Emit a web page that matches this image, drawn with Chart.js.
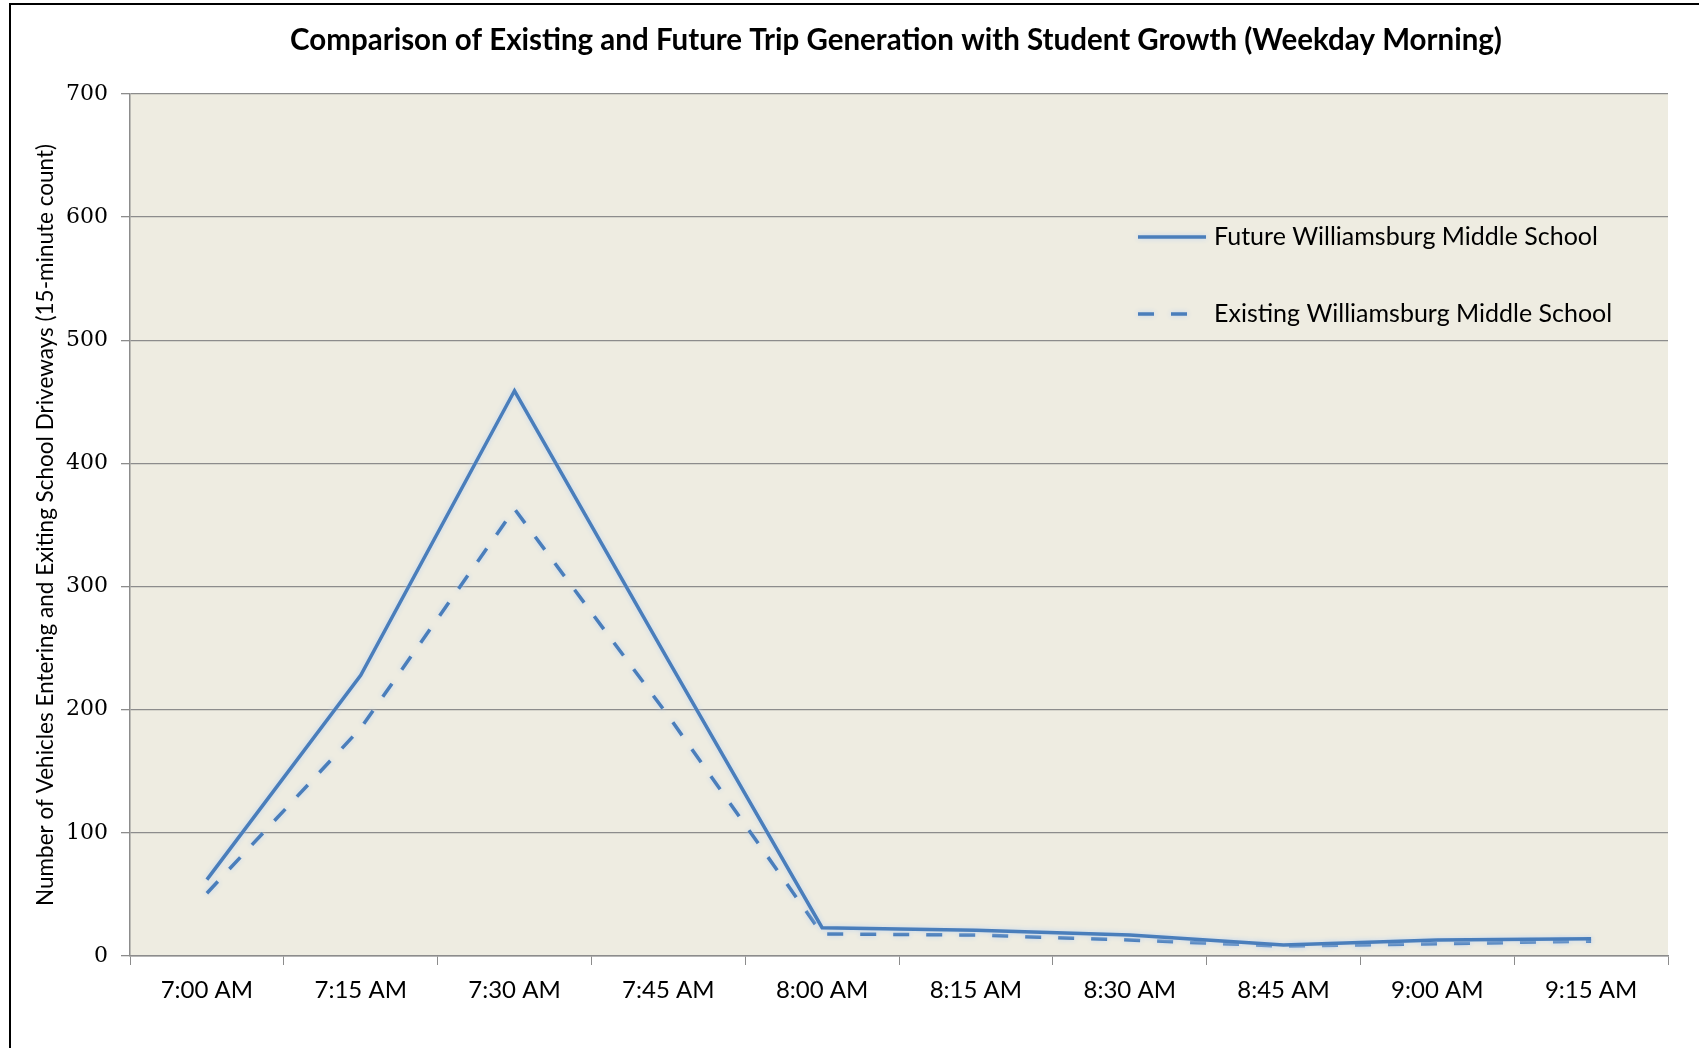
<!DOCTYPE html>
<html>
<head>
<meta charset="utf-8">
<script src="https://cdn.jsdelivr.net/npm/chart.js@4.4.1/dist/chart.umd.min.js"></script>
<style>
  html, body { margin: 0; padding: 0; background: #ffffff; }
  #wrap { width: 1699px; height: 1048px; position: relative; }
</style>
</head>
<body>
<div id="wrap"><canvas id="chart" width="1699" height="1048"></canvas></div>
<script>
// Time slots (15-minute intervals)
const timeLabels = ['7:00 AM', '7:15 AM', '7:30 AM', '7:45 AM', '8:00 AM',
                    '8:15 AM', '8:30 AM', '8:45 AM', '9:00 AM', '9:15 AM'];

// Vehicles entering and exiting the school driveways per 15 minutes
const futureTrips   = [62, 228, 459, 240, 23, 21, 17, 9, 13, 14];
const existingTrips = [51, 185, 363, 195, 18, 17, 13, 8, 10, 12];

const seriesNames = ['Future Williamsburg Middle School', 'Existing Williamsburg Middle School'];
const yTicks = [0, 100, 200, 300, 400, 500, 600, 700];

const chartTitle = 'Comparison of Existing and Future Trip Generation with Student Growth (Weekday Morning)';
const yAxisTitle = 'Number of Vehicles Entering and Exiting School Driveways (15-minute count)';

const LINE_BLUE = '#4a7ebb';
const GRID_GRAY = '#8c8c8c';
const DASH = [16, 17];

// Plot background, outer frame and title
const decorPlugin = {
  id: 'decor',
  beforeDraw(chart) {
    const { ctx, chartArea: a } = chart;
    ctx.save();
    ctx.fillStyle = '#eeece1';
    ctx.fillRect(a.left, a.top, a.right - a.left, a.bottom - a.top);
    ctx.restore();
  },
  afterDraw(chart) {
    const { ctx } = chart;
    ctx.save();
    // frame
    ctx.strokeStyle = '#000000';
    ctx.lineWidth = 2;
    ctx.beginPath();
    ctx.moveTo(10, 1048);
    ctx.lineTo(10, 4);
    ctx.lineTo(1699, 4);
    ctx.stroke();
    // title
    ctx.fillStyle = '#000000';
    ctx.font = 'bold 29.5px Lato';
    ctx.textAlign = 'center';
    ctx.textBaseline = 'middle';
    ctx.fillText(chartTitle, 896, 40);
    ctx.restore();
  }
};

// Soft glow under each line
const glowPlugin = {
  id: 'glow',
  beforeDatasetDraw(chart) {
    const ctx = chart.ctx;
    ctx.save();
    ctx.shadowColor = 'rgba(190, 212, 240, 0.95)';
    ctx.shadowBlur = 5;
  },
  afterDatasetDraw(chart) {
    chart.ctx.restore();
  }
};

// Legend drawn inside the plot area
const legendPlugin = {
  id: 'insideLegend',
  afterDatasetsDraw(chart) {
    const { ctx } = chart;
    const rows = [237, 314];
    ctx.save();
    chart.data.datasets.forEach((ds, i) => {
      const y = rows[i];
      ctx.save();
      ctx.shadowColor = 'rgba(190, 212, 240, 0.95)';
      ctx.shadowBlur = 5;
      ctx.strokeStyle = ds.borderColor;
      ctx.lineWidth = ds.borderWidth;
      ctx.setLineDash(ds.borderDash || []);
      ctx.beginPath();
      ctx.moveTo(1138, y);
      ctx.lineTo(ds.borderDash ? 1190 : 1206, y);
      ctx.stroke();
      ctx.restore();
      ctx.fillStyle = '#000000';
      ctx.font = '25px Lato';
      ctx.textAlign = 'left';
      ctx.textBaseline = 'middle';
      ctx.fillText(ds.label, 1214, y);
    });
    ctx.restore();
  }
};

new Chart(document.getElementById('chart'), {
  type: 'line',
  data: {
    labels: timeLabels,
    datasets: [
      {
        label: seriesNames[0],
        data: futureTrips,
        borderColor: LINE_BLUE,
        backgroundColor: LINE_BLUE,
        borderWidth: 3.5,
        pointRadius: 0,
        tension: 0,
        fill: false
      },
      {
        label: seriesNames[1],
        data: existingTrips,
        borderColor: LINE_BLUE,
        backgroundColor: LINE_BLUE,
        borderWidth: 3.5,
        borderDash: DASH,
        pointRadius: 0,
        tension: 0,
        fill: false
      }
    ]
  },
  options: {
    responsive: false,
    animation: false,
    devicePixelRatio: 1,
    layout: { padding: { top: 94, right: 31, bottom: 0, left: 0 } },
    plugins: {
      legend: { display: false },
      title: { display: false },
      tooltip: { enabled: false }
    },
    scales: {
      x: {
        type: 'category',
        offset: true,
        grid: {
          offset: true,
          drawOnChartArea: false,
          drawTicks: true,
          tickLength: 9,
          color: GRID_GRAY,
          lineWidth: 1
        },
        border: { display: true, color: GRID_GRAY, width: 1.5 },
        ticks: {
          color: '#000000',
          font: { family: 'Lato', size: 24 },
          padding: 11,
          maxRotation: 0,
          autoSkip: false
        },
        afterFit(scale) { scale.height = 92; }
      },
      y: {
        min: 0,
        max: 700,
        afterBuildTicks(scale) { scale.ticks = yTicks.map(v => ({ value: v })); },
        grid: {
          color: GRID_GRAY,
          lineWidth: 1.3,
          drawTicks: true,
          tickLength: 9
        },
        border: { display: true, color: GRID_GRAY, width: 1.5 },
        ticks: {
          color: '#000000',
          font: { family: 'DejaVu Serif', size: 22 },
          padding: 13
        },
        title: {
          display: true,
          text: yAxisTitle,
          color: '#000000',
          font: { family: 'Lato', size: 22.5 },
          padding: { top: 32, bottom: 0 }
        },
        afterFit(scale) { scale.width = 130; }
      }
    }
  },
  plugins: [decorPlugin, glowPlugin, legendPlugin]
});
</script>
</body>
</html>
